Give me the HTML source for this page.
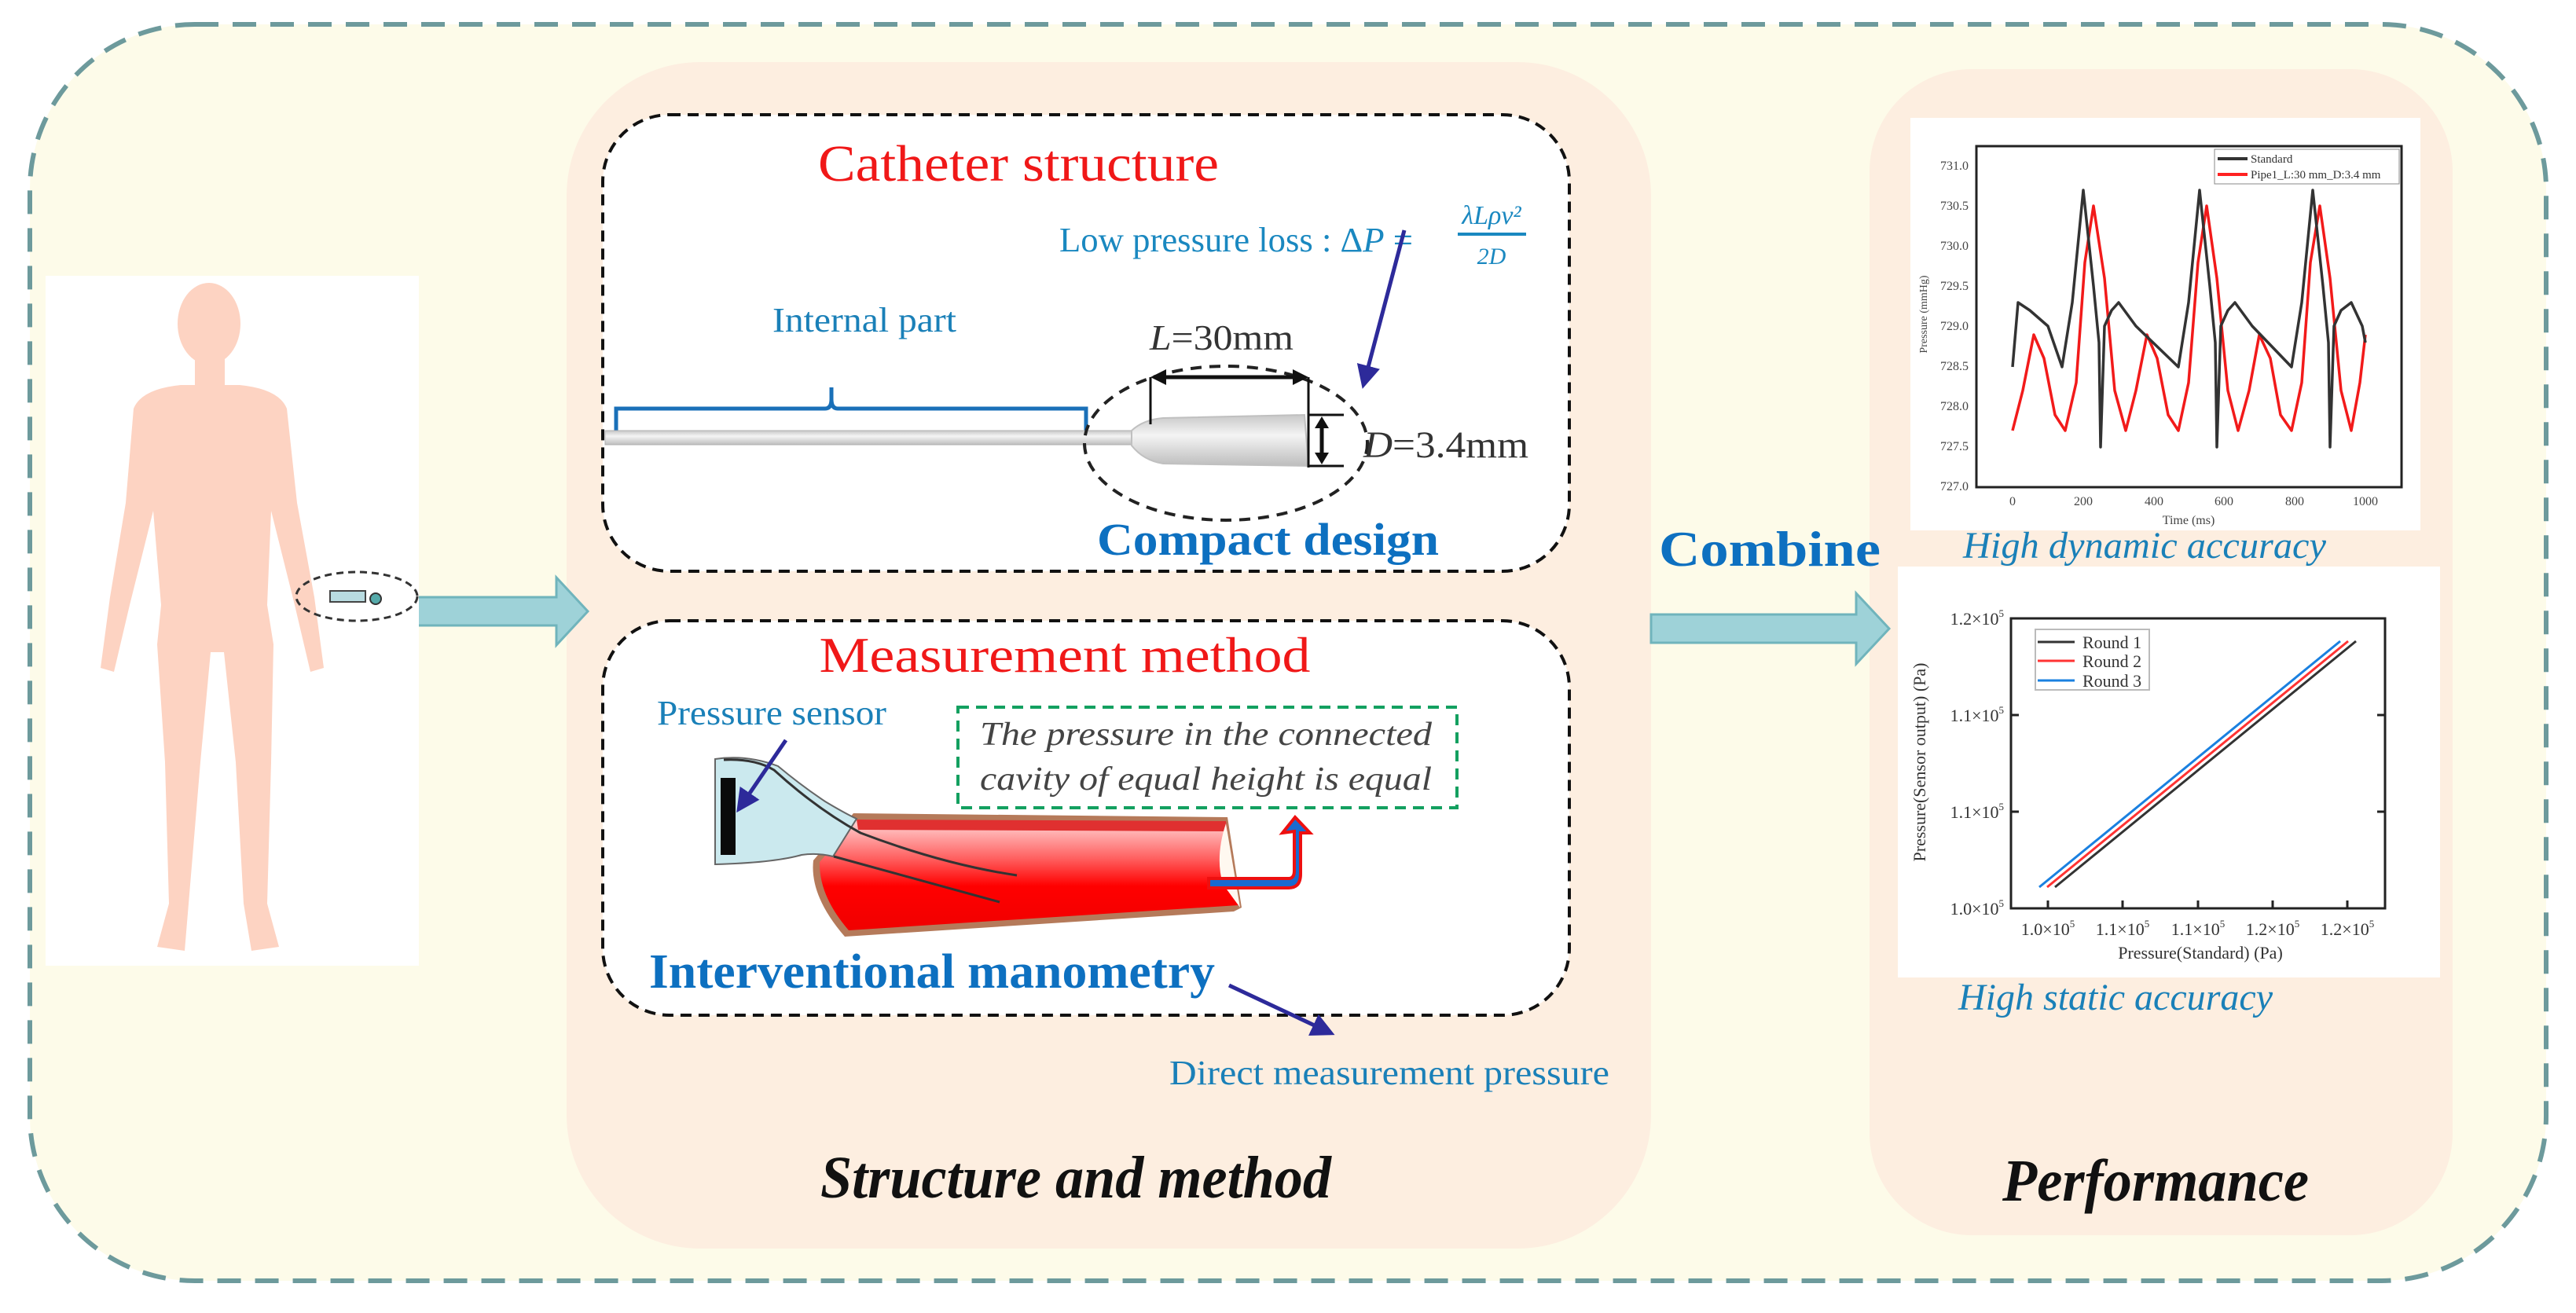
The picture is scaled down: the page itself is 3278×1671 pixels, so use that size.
<!DOCTYPE html>
<html><head><meta charset="utf-8"><style>
html,body{margin:0;padding:0;background:#fff;}
svg{display:block}
text{font-family:"Liberation Serif",serif;}
</style></head><body>
<svg width="3278" height="1671" viewBox="0 0 3278 1671" xmlns="http://www.w3.org/2000/svg">
<defs>
<linearGradient id="ves" x1="0" y1="0" x2="0" y2="1"><stop offset="0" stop-color="#ffd8d8"/><stop offset="0.35" stop-color="#ff6060"/><stop offset="0.6" stop-color="#ff0000"/><stop offset="1" stop-color="#f00000"/></linearGradient>
<linearGradient id="tube" x1="0" y1="0" x2="0" y2="1"><stop offset="0" stop-color="#c8c8c8"/><stop offset="0.4" stop-color="#f4f4f4"/><stop offset="1" stop-color="#bdbdbd"/></linearGradient>
<marker id="pa" markerWidth="6" markerHeight="6" refX="5" refY="3" orient="auto"><path d="M0,0 L6,3 L0,6 Z" fill="#2d2a9a"/></marker>
</defs>
<rect width="3278" height="1671" fill="#ffffff"/>
<!-- outer -->
<rect x="38" y="31" width="3202" height="1599" rx="210" fill="#fdfbe9" stroke="#6d9a9c" stroke-width="6" stroke-dasharray="30 18"/>
<!-- panels -->
<rect x="721" y="79" width="1380" height="1510" rx="170" fill="#fdeee0"/>
<rect x="2379" y="88" width="742" height="1484" rx="130" fill="#fdeee0"/>
<!-- catheter box -->
<rect x="767" y="146" width="1230" height="581" rx="85" fill="#fff" stroke="#111" stroke-width="4" stroke-dasharray="14 9"/>
<rect x="767" y="790" width="1230" height="502" rx="85" fill="#fff" stroke="#111" stroke-width="4" stroke-dasharray="14 9"/>

<text x="1296" y="230" font-size="66" fill="#f01818" text-anchor="middle" textLength="510" lengthAdjust="spacingAndGlyphs">Catheter structure</text>
<text x="1348" y="320" font-size="44" fill="#1a88c0" textLength="450" lengthAdjust="spacingAndGlyphs">Low pressure loss : Δ<tspan font-style="italic">P</tspan> =</text>
<text x="1898" y="285" font-size="34" fill="#1a88c0" font-style="italic" text-anchor="middle">λLρv²</text>
<line x1="1855" y1="298" x2="1942" y2="298" stroke="#1a88c0" stroke-width="4"/>
<text x="1898" y="336" font-size="30" fill="#1a88c0" font-style="italic" text-anchor="middle">2D</text>
<line x1="1787" y1="293" x2="1735" y2="490" stroke="#2d2a9a" stroke-width="5" marker-end="url(#pa)"/>

<text x="983" y="422" font-size="44" fill="#1a80b8" textLength="234" lengthAdjust="spacingAndGlyphs">Internal part</text>
<path d="M784,548 L784,520 L1050,520 Q1058,520 1058,508 L1058,493 M1058,508 Q1058,520 1066,520 L1382,520 L1382,548" fill="none" stroke="#1a70b8" stroke-width="5"/>
<!-- tube -->
<rect x="770" y="548" width="680" height="18" fill="url(#tube)" stroke="#b0b0b0" stroke-width="1"/>
<path d="M1440,548 Q1455,534 1480,532 L1660,528 L1665,593 L1480,590 Q1455,586 1440,567 Z" fill="url(#tube)" stroke="#c0c0c0" stroke-width="2"/>
<ellipse cx="1560" cy="564" rx="180" ry="98" fill="none" stroke="#222" stroke-width="4" stroke-dasharray="14 10"/>
<line x1="1464" y1="480" x2="1464" y2="540" stroke="#111" stroke-width="3"/>
<line x1="1665" y1="480" x2="1665" y2="595" stroke="#111" stroke-width="3"/>
<line x1="1475" y1="480" x2="1654" y2="480" stroke="#111" stroke-width="5"/>
<path d="M1464,480 L1484,470 L1484,490 Z M1665,480 L1645,470 L1645,490 Z" fill="#111"/>
<line x1="1665" y1="528" x2="1710" y2="528" stroke="#111" stroke-width="3"/>
<line x1="1665" y1="593" x2="1710" y2="593" stroke="#111" stroke-width="3"/>
<line x1="1682" y1="538" x2="1682" y2="583" stroke="#111" stroke-width="5"/>
<path d="M1682,530 L1673,545 L1691,545 Z M1682,591 L1673,576 L1691,576 Z" fill="#111"/>
<text x="1463" y="445" font-size="46" fill="#333" textLength="183" lengthAdjust="spacingAndGlyphs"><tspan font-style="italic">L</tspan>=30mm</text>
<text x="1735" y="582" font-size="48" fill="#333" textLength="210" lengthAdjust="spacingAndGlyphs"><tspan font-style="italic">D</tspan>=3.4mm</text>
<text x="1396" y="706" font-size="58" font-weight="bold" fill="#0d70c0" textLength="435" lengthAdjust="spacingAndGlyphs">Compact design</text>

<!-- Measurement -->
<text x="1355" y="855" font-size="64" fill="#f01818" text-anchor="middle" textLength="625" lengthAdjust="spacingAndGlyphs">Measurement method</text>
<text x="836" y="922" font-size="44" fill="#1a80b8" textLength="292" lengthAdjust="spacingAndGlyphs">Pressure sensor</text>
<rect x="1219" y="900" width="635" height="128" fill="none" stroke="#13a060" stroke-width="4" stroke-dasharray="14 9"/>
<text x="1247" y="948" font-size="42" font-style="italic" fill="#444" textLength="575" lengthAdjust="spacingAndGlyphs">The pressure in the connected</text>
<text x="1247" y="1005" font-size="42" font-style="italic" fill="#444" textLength="575" lengthAdjust="spacingAndGlyphs">cavity of equal height is equal</text>
<!-- vessel -->
<path d="M1086,1035 L1562,1040 L1580,1155 L1570,1160 L1075,1192 Q1030,1140 1035,1095 Z" fill="#b57a5a"/>
<path d="M1090,1043 L1560,1048 L1576,1152 L1080,1184 Q1042,1140 1043,1097 Z" fill="url(#ves)"/>
<path d="M1090,1043 L1560,1045 L1562,1058 L1092,1056 Z" fill="#e03030"/>
<path d="M1560,1048 Q1546,1090 1556,1125 L1578,1155" fill="#fff8f0"/>
<!-- sensor -->
<path d="M910,966 Q950,960 990,975 Q1020,1000 1050,1020 Q1075,1035 1090,1042 L1060,1090 Q1040,1085 1020,1088 Q985,1098 910,1100 Z" fill="#cbe9ee" stroke="#666" stroke-width="2"/>
<rect x="917" y="990" width="19" height="98" fill="#0a0a0a"/>
<path d="M921,967 Q960,965 985,980 Q1040,1030 1095,1060 Q1200,1100 1294,1114" fill="none" stroke="#333" stroke-width="3"/>
<line x1="1061" y1="1090" x2="1272" y2="1148" stroke="#333" stroke-width="3"/>
<line x1="1000" y1="942" x2="940" y2="1030" stroke="#2d2a9a" stroke-width="5" marker-end="url(#pa)"/>
<!-- blue arrow -->
<path d="M1538,1118 L1640,1118 Q1647,1118 1647,1108 L1647,1058 L1632,1060 L1648,1040 L1667,1060 L1655,1060 L1655,1112 Q1655,1130 1640,1130 L1538,1130 Z" fill="#1a6ad0" stroke="#ee1010" stroke-width="4"/>
<text x="826" y="1257" font-size="62" font-weight="bold" fill="#0d70c0" textLength="720" lengthAdjust="spacingAndGlyphs">Interventional manometry</text>
<line x1="1564" y1="1254" x2="1694" y2="1315" stroke="#2d2a9a" stroke-width="5" marker-end="url(#pa)"/>
<text x="1488" y="1380" font-size="44" fill="#1a80b8" textLength="560" lengthAdjust="spacingAndGlyphs">Direct measurement pressure</text>
<text x="1369" y="1524" font-size="76" font-weight="bold" font-style="italic" fill="#111" text-anchor="middle" textLength="650" lengthAdjust="spacingAndGlyphs">Structure and method</text>

<text x="2111" y="720" font-size="64" font-weight="bold" fill="#0d70c0" textLength="282" lengthAdjust="spacingAndGlyphs">Combine</text>
<!-- arrows -->
<path d="M512,760 L708,760 L708,735 L748,778 L708,821 L708,796 L512,796 Z" fill="#9ed2d8" stroke="#70b4bc" stroke-width="3"/>
<path d="M2101,782 L2362,782 L2362,755 L2404,800 L2362,845 L2362,818 L2101,818 Z" fill="#9ed2d8" stroke="#70b4bc" stroke-width="3"/>

<!-- human -->
<rect x="58" y="351" width="475" height="878" fill="#fff"/>
<g fill="#fdd3c2">
<ellipse cx="266" cy="412" rx="40" ry="52"/>
<rect x="248" y="450" width="38" height="50"/>
<path d="M170,520 Q180,495 230,490 L305,490 Q355,495 365,520 L378,640 L400,760 L412,850 L395,855 L375,770 L345,650 L340,770 L348,820 L345,970 L340,1150 L355,1205 L320,1210 L310,1150 L300,970 L285,830 L268,830 L255,970 L240,1150 L235,1210 L200,1205 L215,1150 L210,970 L200,820 L205,770 L195,650 L165,770 L145,855 L128,850 L140,760 L160,640 Z"/>
</g>
<ellipse cx="454" cy="759" rx="77" ry="31" fill="none" stroke="#333" stroke-width="3" stroke-dasharray="9 6"/>
<rect x="420" y="752" width="45" height="14" fill="#b8dbe0" stroke="#444" stroke-width="2"/>
<circle cx="478" cy="762" r="7" fill="#5aa" stroke="#333" stroke-width="2"/>

<!-- top chart -->
<rect x="2431" y="150" width="649" height="525" fill="#fff"/>
<rect x="2515" y="186" width="541" height="434" fill="none" stroke="#222" stroke-width="3"/>
<g font-size="16" fill="#444" text-anchor="end">
<text x="2505" y="216">731.0</text><text x="2505" y="267">730.5</text><text x="2505" y="318">730.0</text><text x="2505" y="369">729.5</text><text x="2505" y="420">729.0</text><text x="2505" y="471">728.5</text><text x="2505" y="522">728.0</text><text x="2505" y="573">727.5</text><text x="2505" y="624">727.0</text>
</g>
<g font-size="16" fill="#444" text-anchor="middle">
<text x="2561" y="643">0</text><text x="2651" y="643">200</text><text x="2741" y="643">400</text><text x="2830" y="643">600</text><text x="2920" y="643">800</text><text x="3010" y="643">1000</text>
<text x="2785" y="667">Time (ms)</text>
</g>
<text x="2452" y="400" font-size="14" fill="#444" text-anchor="middle" transform="rotate(-90 2452 400)">Pressure (mmHg)</text>
<rect x="2818" y="190" width="235" height="44" fill="#fff" stroke="#888" stroke-width="1"/>
<line x1="2822" y1="202" x2="2860" y2="202" stroke="#333" stroke-width="4"/><text x="2864" y="207" font-size="15" fill="#333">Standard</text>
<line x1="2822" y1="222" x2="2860" y2="222" stroke="#f22" stroke-width="4"/><text x="2864" y="227" font-size="15" fill="#333">Pipe1_L:30 mm_D:3.4 mm</text>
<polyline fill="none" stroke="#f21a1a" stroke-width="3.5" stroke-linejoin="round" points="2561,548 2574,497 2588,426 2601,456 2615,528 2628,548 2642,487 2653,334 2664,262 2678,354 2691,497 2705,548 2718,497 2732,426 2745,456 2759,528 2772,548 2785,487 2797,334 2808,262 2821,354 2835,497 2848,548 2862,497 2875,426 2889,456 2902,528 2916,548 2929,487 2940,334 2952,262 2965,354 2979,497 2992,548 3003,487 3010,426"/>
<polyline fill="none" stroke="#333" stroke-width="3.5" stroke-linejoin="round" points="2561,467 2568,385 2583,395 2606,415 2624,467 2637,385 2651,242 2664,364 2671,436 2673,569 2678,415 2687,395 2696,385 2718,415 2772,467 2785,385 2799,242 2812,364 2819,436 2821,569 2826,415 2835,395 2844,385 2866,415 2916,467 2929,385 2943,242 2956,364 2963,436 2965,569 2970,415 2979,395 2992,385 3006,415 3010,436"/>

<!-- bottom chart -->
<rect x="2415" y="721" width="690" height="523" fill="#fff"/>
<rect x="2559" y="787" width="476" height="369" fill="none" stroke="#222" stroke-width="3"/>
<g stroke="#222" stroke-width="3">
<line x1="2606" y1="1156" x2="2606" y2="1146"/><line x1="2701" y1="1156" x2="2701" y2="1146"/><line x1="2797" y1="1156" x2="2797" y2="1146"/><line x1="2892" y1="1156" x2="2892" y2="1146"/><line x1="2987" y1="1156" x2="2987" y2="1146"/>
<line x1="2559" y1="910" x2="2569" y2="910"/><line x1="2559" y1="1033" x2="2569" y2="1033"/>
<line x1="3035" y1="910" x2="3025" y2="910"/><line x1="3035" y1="1033" x2="3025" y2="1033"/>
</g>
<g font-size="22" fill="#333" text-anchor="end">
<text x="2550" y="795">1.2×10<tspan font-size="13" dy="-10">5</tspan></text>
<text x="2550" y="918">1.1×10<tspan font-size="13" dy="-10">5</tspan></text>
<text x="2550" y="1041">1.1×10<tspan font-size="13" dy="-10">5</tspan></text>
<text x="2550" y="1164">1.0×10<tspan font-size="13" dy="-10">5</tspan></text>
</g>
<g font-size="22" fill="#333" text-anchor="middle">
<text x="2606" y="1190">1.0×10<tspan font-size="13" dy="-10">5</tspan></text>
<text x="2701" y="1190">1.1×10<tspan font-size="13" dy="-10">5</tspan></text>
<text x="2797" y="1190">1.1×10<tspan font-size="13" dy="-10">5</tspan></text>
<text x="2892" y="1190">1.2×10<tspan font-size="13" dy="-10">5</tspan></text>
<text x="2987" y="1190">1.2×10<tspan font-size="13" dy="-10">5</tspan></text>
<text x="2800" y="1220">Pressure(Standard) (Pa)</text>
</g>
<text x="2450" y="970" font-size="22" fill="#333" text-anchor="middle" transform="rotate(-90 2450 970)">Pressure(Sensor output) (Pa)</text>
<rect x="2590" y="801" width="145" height="77" fill="#fff" stroke="#bbb" stroke-width="2"/>
<line x1="2593" y1="817" x2="2640" y2="817" stroke="#333" stroke-width="3"/><text x="2650" y="825" font-size="22" fill="#333">Round  1</text>
<line x1="2593" y1="841" x2="2640" y2="841" stroke="#f33" stroke-width="3"/><text x="2650" y="849" font-size="22" fill="#333">Round  2</text>
<line x1="2593" y1="866" x2="2640" y2="866" stroke="#1a80e0" stroke-width="3"/><text x="2650" y="874" font-size="22" fill="#333">Round  3</text>
<line x1="2615" y1="1129" x2="2998" y2="816" stroke="#333" stroke-width="3"/>
<line x1="2605" y1="1129" x2="2988" y2="816" stroke="#f33" stroke-width="3"/>
<line x1="2595" y1="1129" x2="2978" y2="816" stroke="#1a80e0" stroke-width="3"/>

<text x="2498" y="710" font-size="48" font-style="italic" fill="#1a80b8" textLength="462" lengthAdjust="spacingAndGlyphs">High dynamic accuracy</text>
<text x="2492" y="1285" font-size="48" font-style="italic" fill="#1a80b8" textLength="400" lengthAdjust="spacingAndGlyphs">High static accuracy</text>
<text x="2743" y="1528" font-size="76" font-weight="bold" font-style="italic" fill="#111" text-anchor="middle" textLength="390" lengthAdjust="spacingAndGlyphs">Performance</text>
</svg>
</body></html>
